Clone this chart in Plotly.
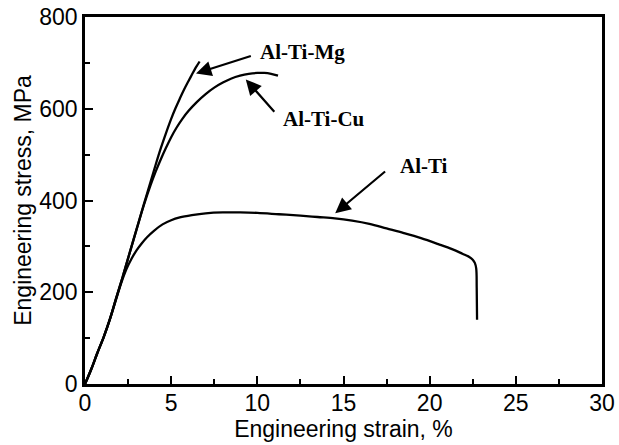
import plotly.graph_objects as go

# Al-Ti-Mg
mg_x = [0, 0.35, 0.7, 1.1, 1.45, 1.8, 2.2, 2.6, 3.0, 3.4, 3.8, 4.1, 4.4, 4.7, 5.0, 5.25, 5.5, 5.75, 6.0, 6.2, 6.4, 6.55, 6.65]
mg_y = [0, 31, 66, 104, 142, 186, 235, 287, 338, 390, 440, 478, 514, 547, 578, 601, 622, 642, 660, 674, 688, 697, 703]
# Al-Ti-Cu
cu_x = [0, 0.35, 0.7, 1.1, 1.45, 1.8, 2.2, 2.6, 3.0, 3.4, 3.8, 4.1, 4.4, 4.7, 5.0, 5.3, 5.65, 6.0, 6.5, 7.0, 7.5, 8.0, 8.5, 9.0, 9.5, 10.0, 10.4, 10.8, 11.2]
cu_y = [0, 31, 66, 104, 142, 186, 235, 287, 338, 388, 433, 463, 490, 515, 538, 558, 578, 595, 615, 632, 646, 657, 666, 672, 676, 678, 678, 676, 672]
# Al-Ti
ti_x = [0, 0.35, 0.7, 1.1, 1.45, 1.8, 2.1, 2.4, 2.7, 3.0, 3.3, 3.6, 4.0, 4.5, 5.0, 5.5, 6.2, 7.0, 8.0, 9.0, 10.0, 11.25, 12.5, 13.5, 14.5, 15.5, 16.5, 17.5, 18.5, 19.5, 20.5, 21.3, 21.9, 22.3, 22.5, 22.62, 22.7, 22.73, 22.75]
ti_y = [0, 31, 66, 104, 142, 184, 220, 250, 273, 292, 307, 320, 334, 348, 357, 363, 368, 372, 374, 374, 373, 370, 367, 364, 361, 356, 349, 339, 329, 318, 305, 294, 284, 277, 271, 264, 252, 210, 140]

labels = ["Al-Ti-Mg", "Al-Ti-Cu", "Al-Ti"]
label_x = [10.05, 11.4, 18.15]
label_y = [724, 578, 475]
arrow_tail_x = [9.71, 11.06, 17.5]
arrow_tail_y = [716, 590, 466]
arrow_tip_x = [6.44, 9.33, 14.52]
arrow_tip_y = [677, 664, 372]

x_ticks = [0, 5, 10, 15, 20, 25, 30]
y_ticks = [0, 200, 400, 600, 800]

fig = go.Figure()
for xs, ys in [(ti_x, ti_y), (cu_x, cu_y), (mg_x, mg_y)]:
    fig.add_trace(go.Scatter(x=xs, y=ys, mode="lines",
                             line=dict(color="black", width=2.3, shape="spline", smoothing=1.0),
                             showlegend=False, hoverinfo="skip"))

for i, lab in enumerate(labels):
    fig.add_annotation(x=label_x[i], y=label_y[i], text="<b>%s</b>" % lab, showarrow=False,
                       xanchor="left", yanchor="middle",
                       font=dict(family="Liberation Serif", size=21, color="black"))
    fig.add_annotation(x=arrow_tip_x[i], y=arrow_tip_y[i], ax=arrow_tail_x[i], ay=arrow_tail_y[i],
                       axref="x", ayref="y", xref="x", yref="y", text="", showarrow=True,
                       arrowhead=2, arrowsize=1.4, arrowwidth=2.2, arrowcolor="black")

axis_common = dict(showgrid=False, zeroline=False, showline=True, linecolor="black", linewidth=2.5,
                   mirror=True, ticks="inside", ticklen=8, tickwidth=2, tickcolor="black",
                   automargin=False,
                   tickfont=dict(family="Liberation Sans", size=23, color="black"))

fig.update_xaxes(range=[0, 30], tickvals=x_ticks, ticktext=[str(v) for v in x_ticks],
                 ticklabelstandoff=-3,
                 minor=dict(ticks="inside", tickvals=[2.5, 7.5, 12.5, 17.5, 22.5, 27.5], ticklen=5, tickwidth=2, tickcolor="black"),
                 title=dict(text="Engineering strain, %", font=dict(family="Liberation Sans", size=23, color="black"), standoff=0),
                 **axis_common)
fig.update_yaxes(range=[0, 800], tickvals=y_ticks, ticktext=[str(v) for v in y_ticks],
                 minor=dict(ticks="inside", tickvals=[100, 300, 500, 700], ticklen=5, tickwidth=2, tickcolor="black"),
                 title=dict(text="Engineering stress, MPa", font=dict(family="Liberation Sans", size=23, color="black"), standoff=2),
                 **axis_common)

fig.update_layout(width=619, height=445, margin=dict(l=85, r=17, t=17, b=61),
                  plot_bgcolor="white", paper_bgcolor="white")
fig.write_html("out.html", config={"displayModeBar": False},
               post_script="document.body.style.margin='0';document.body.style.padding='0';")
